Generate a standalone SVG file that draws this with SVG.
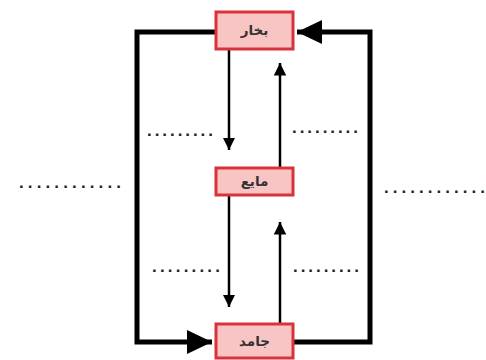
<svg xmlns="http://www.w3.org/2000/svg" width="486" height="360" viewBox="0 0 486 360">
<style>
.box{fill:#f8c4c4;stroke:#d8323a;stroke-width:3}
.lbl{font-family:"DejaVu Sans",sans-serif;font-size:13.5px;font-weight:bold;fill:#333;text-anchor:middle}
.dots{font-family:"Liberation Sans",sans-serif;font-size:17px;font-weight:bold;fill:#222}
.thick{fill:none;stroke:#000;stroke-width:5}
.thin{fill:none;stroke:#000;stroke-width:2.5}
</style>
<defs>
<marker id="big" markerWidth="6" markerHeight="6" refX="5" refY="3" orient="auto" markerUnits="strokeWidth" viewBox="0 0 6 6"><path d="M0,0.6 L5,3 L0,5.4 z" fill="#000"/></marker>
<marker id="small" markerWidth="6" markerHeight="6" refX="5" refY="3" orient="auto" markerUnits="strokeWidth" viewBox="0 0 6 6"><path d="M0,0.5 L5,3 L0,5.5 z" fill="#000"/></marker>
</defs>
<rect width="486" height="360" fill="#fff"/>
<g id="connectors">
<path class="thick" d="M215,32 H137 V342 H212" marker-end="url(#big)"/>
<path class="thick" d="M294,342 H370 V32 H297" marker-end="url(#big)"/>
<path class="thin" d="M229,50 V150" marker-end="url(#small)"/>
<path class="thin" d="M280,167 V63" marker-end="url(#small)"/>
<path class="thin" d="M229,195 V307" marker-end="url(#small)"/>
<path class="thin" d="M280,323 V222" marker-end="url(#small)"/>
</g>
<g id="labels">
<text class="dots" x="147" y="136" textLength="66" lengthAdjust="spacing">.........</text>
<text class="dots" x="292" y="133" textLength="66" lengthAdjust="spacing">.........</text>
<text class="dots" x="152" y="272" textLength="68" lengthAdjust="spacing">.........</text>
<text class="dots" x="293" y="272" textLength="66" lengthAdjust="spacing">.........</text>
<text class="dots" x="19" y="188" textLength="102" lengthAdjust="spacing">............</text>
<text class="dots" x="384" y="193" textLength="101" lengthAdjust="spacing">............</text>
</g>
<g id="n-vapor"><rect class="box" x="216" y="12" width="77" height="37"/><text class="lbl" x="254.5" y="35">بخار</text></g>
<g id="n-liquid"><rect class="box" x="216" y="168" width="77" height="27"/><text class="lbl" x="254.5" y="186">مایع</text></g>
<g id="n-solid"><rect class="box" x="216" y="324" width="77" height="34"/><text class="lbl" x="254.5" y="346">جامد</text></g>
</svg>
